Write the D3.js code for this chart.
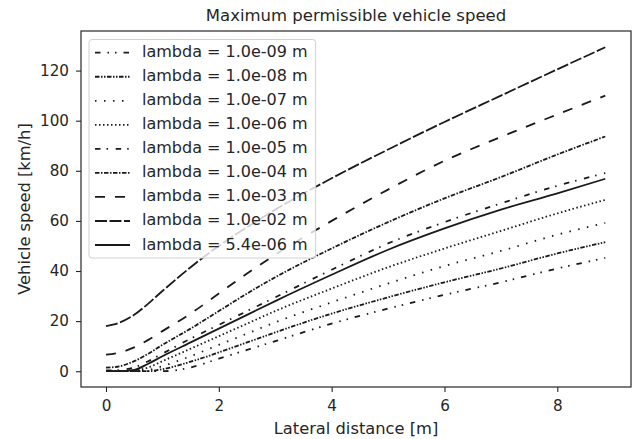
<!DOCTYPE html>
<html>
<script src='https://d3js.org/d3.v7.min.js'></script>
<style>
body { margin: 0; background: white; }
text { font-family: "DejaVu Sans", sans-serif; fill: #262626; }
</style>
<body>
<svg width=642 height=439></svg>
<script>
var distance = [0, 0.25, 0.5, 0.75, 1, 1.5, 2, 2.5, 3, 4, 5, 6, 7, 8, 8.85];

var labels = ["lambda = 1.0e-09 m", "lambda = 1.0e-08 m", "lambda = 1.0e-07 m",
  "lambda = 1.0e-06 m", "lambda = 1.0e-05 m", "lambda = 1.0e-04 m",
  "lambda = 1.0e-03 m", "lambda = 1.0e-02 m", "lambda = 5.4e-06 m"];

// vehicle speed [km/h]
var speed_1e9 = [0, 0, 0, 0, 0, 1.5, 5, 8.5, 12, 19, 25, 30.5, 35.5, 41, 45.2];
var speed_1e8 = [0, 0, 0, 0, 0.8, 3.8, 7.5, 11.5, 15.5, 23, 29.5, 35.5, 41, 47, 51.5];
var speed_1e7 = [0, 0, 0, 0.5, 2, 6, 10.5, 15, 19.5, 27.5, 35, 42, 48, 54.5, 59.2];
var speed_1e6 = [0, 0, 0.3, 1.5, 4, 9, 14, 19, 24, 33, 41.5, 49, 56, 63, 68.4];
var speed_1e5 = [0.3, 0.5, 1.5, 4, 7, 13, 18.5, 24, 29.5, 40.5, 51, 59.5, 67, 74, 79.1];
var speed_1e4 = [1.4, 2, 4, 7, 10.5, 17, 24, 31, 37.5, 49, 59.5, 69, 77.5, 86.5, 93.7];
var speed_1e3 = [6.6, 7.5, 9.5, 12.5, 16, 23, 31, 39, 46.5, 60, 72.5, 84, 93.5, 102.5, 110];
var speed_1e2 = [18, 19.5, 22.5, 27, 32, 41.5, 50, 57.5, 64.5, 77, 88.5, 99.5, 110, 120.5, 129.3];
var speed_opt = [0, 0, 0.5, 3, 6, 11.5, 17, 22.5, 28, 38.5, 48.5, 57, 64.5, 71, 76.8];

var series = [speed_1e9, speed_1e8, speed_1e7, speed_1e6, speed_1e5,
  speed_1e4, speed_1e3, speed_1e2, speed_opt];

var xTicks = [0, 2, 4, 6, 8];
var yTicks = [0, 20, 40, 60, 80, 100, 120];

// line styles, same order as series
var dashes = ["5.5,7,1.5,6,1.5,7", "4.5,1.5,1.5,1.5,1.5,1.5", "1.5,7.5", "1.5,2.5",
  "5.5,6,1.5,7.7", "4.5,1.5,1.5,1.5", "10,10", "12,2.5", null];

var plotL = 81, plotR = 631, plotT = 31, plotB = 387;

var x = d3.scaleLinear().domain([-0.443, 9.306]).range([plotL, plotR]);
var y = d3.scaleLinear().domain([-6.3, 135.8]).range([plotB, plotT]);

var svg = d3.select("svg");

// axes
var xAxis = svg.append("g")
  .attr("transform", "translate(0," + plotB + ")")
  .call(d3.axisBottom(x).tickValues(xTicks).tickSize(5).tickPadding(8));
var yAxis = svg.append("g")
  .attr("transform", "translate(" + plotL + ",0)")
  .call(d3.axisLeft(y).tickValues(yTicks).tickSize(5).tickPadding(7));

[xAxis, yAxis].forEach(function(a) {
  a.select(".domain").remove();
  a.selectAll("line").attr("stroke", "#262626").attr("stroke-width", 1.1);
  a.selectAll("text").style("font-size", "15.2px").style("font-family", "DejaVu Sans").attr("fill", "#262626");
});

// curves
var line = d3.line()
  .x(function(d) { return x(d[0]); })
  .y(function(d) { return y(d[1]); })
  .curve(d3.curveMonotoneX);

svg.append("g").selectAll("path").data(series).enter().append("path")
  .attr("d", function(s) { return line(distance.map(function(v, i) { return [v, s[i]]; })); })
  .attr("fill", "none")
  .attr("stroke", "#1a1a1a")
  .attr("stroke-width", 1.8)
  .attr("stroke-dasharray", function(s, i) { return dashes[i]; });

// frame
svg.append("rect")
  .attr("x", plotL).attr("y", plotT)
  .attr("width", plotR - plotL).attr("height", plotB - plotT)
  .attr("fill", "none").attr("stroke", "#262626").attr("stroke-width", 1.2);

// legend
var legend = svg.append("g");
var box = legend.append("rect")
  .attr("x", 89).attr("y", 39.5)
  .attr("height", 218.5)
  .attr("rx", 3)
  .attr("fill", "white").attr("fill-opacity", 0.8)
  .attr("stroke", "#d0d0d0").attr("stroke-width", 1);

var maxLen = 0;
labels.forEach(function(lab, i) {
  var cy = 52.7 + 24.04 * i;
  legend.append("line")
    .attr("x1", 95).attr("x2", 130)
    .attr("y1", cy).attr("y2", cy)
    .attr("stroke", "#1a1a1a").attr("stroke-width", 1.8)
    .attr("stroke-dasharray", dashes[i]);
  var t = legend.append("text")
    .attr("x", 142).attr("y", cy + 4.5)
    .style("font-size", "16px")
    .text(lab);
  maxLen = Math.max(maxLen, t.node().getComputedTextLength());
});
box.attr("width", 142 + maxLen + 8 - 89);

// title and axis labels
svg.append("text")
  .attr("x", (plotL + plotR) / 2).attr("y", 20.5)
  .attr("text-anchor", "middle")
  .style("font-size", "16.5px")
  .text("Maximum permissible vehicle speed");

svg.append("text")
  .attr("x", (plotL + plotR) / 2).attr("y", 433.5)
  .attr("text-anchor", "middle")
  .style("font-size", "16.3px")
  .text("Lateral distance [m]");

svg.append("text")
  .attr("transform", "translate(29.5," + ((plotT + plotB) / 2) + ") rotate(-90)")
  .attr("text-anchor", "middle")
  .style("font-size", "16.3px")
  .text("Vehicle speed [km/h]");
</script>
</body>
</html>
